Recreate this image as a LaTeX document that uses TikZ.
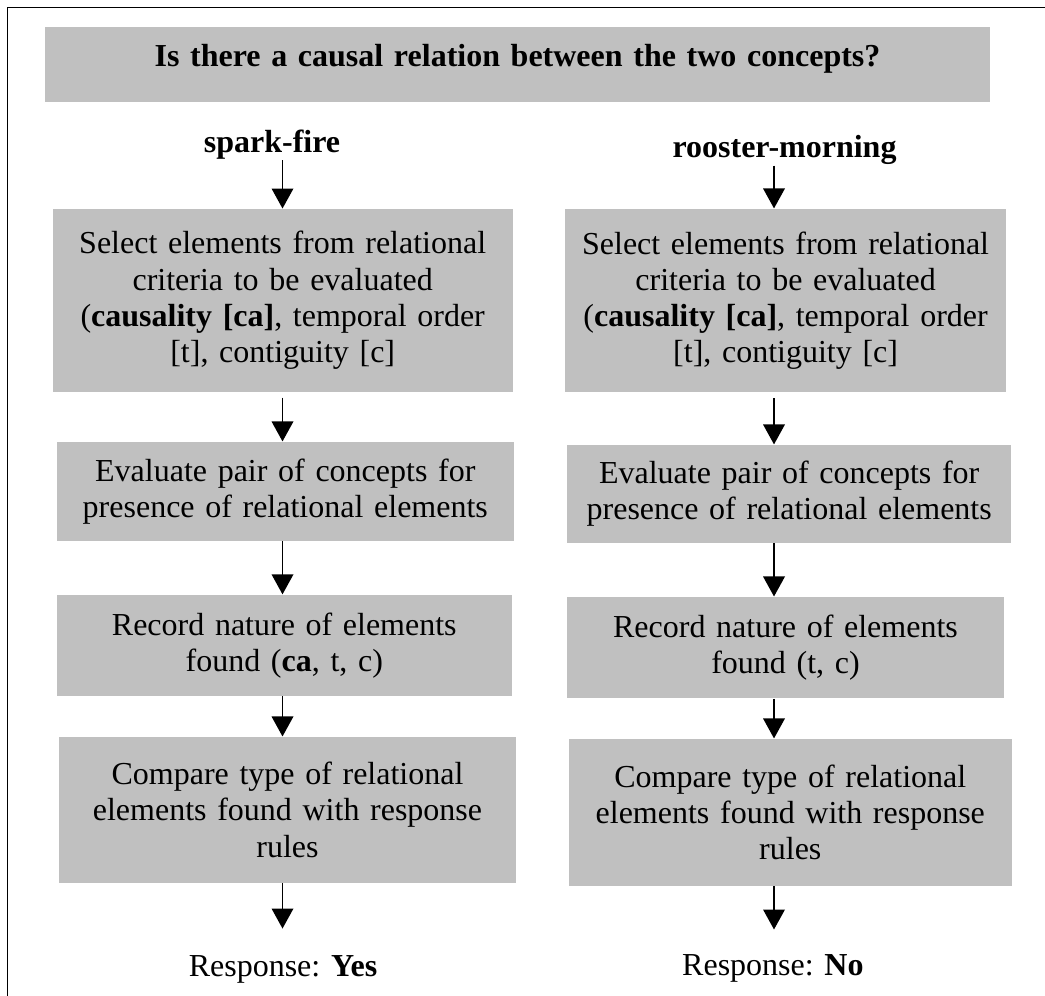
\documentclass[tikz,border=0pt]{standalone}
\usepackage{fontspec}
\setmainfont{Liberation Serif}
\usepackage{xcolor}
\usetikzlibrary{arrows.meta, positioning, calc}
\definecolor{cellgray}{HTML}{C0C0C0}

\begin{document}
\begin{tikzpicture}[
    x=0.375pt, y=-0.375pt,
    block/.style={fill=cellgray, inner sep=0pt, align=center, text width=158pt, font=\fontsize{12}{13.6}\selectfont},
    tag/.style={inner sep=0pt, anchor=base, font=\fontsize{12}{13.6}\selectfont},
    arr/.style={line width=0.6pt, -{Triangle[width=8.1pt, length=7.5pt]}}
]
    \useasboundingbox (0,0) rectangle (1045,996);

    % frame
    \draw[line width=0.6pt] (7.5,996) -- (7.5,7.5) -- (1045,7.5);

    \node[block, minimum width=354.4pt, minimum height=28.1pt, text width=350pt, text depth=6.5pt, font=\fontsize{12}{13.6}\selectfont\bfseries] (question) at (517.5,64.5) {Is there a causal relation between the two concepts?};

    % concept pairs
    \node[tag] (spark) at (272,153) {\bfseries spark-fire};
    \node[tag] (rooster) at (784.5,158) {\bfseries rooster-morning};

    % left column
    \node[block, minimum width=172.5pt, minimum height=68.5pt] (selL) at (282.7,300.4) {Select elements from relational\\criteria to be evaluated\\(\textbf{causality [ca]}, temporal order\\{[t]}, contiguity [c]};
    \node[block, minimum width=171.5pt, minimum height=37pt] (evalL) at (285.3,491.3) {Evaluate pair of concepts for\\presence of relational elements};
    \node[block, minimum width=170.7pt, minimum height=37.8pt] (recL) at (284.3,645.3) {Record nature of elements\\found (\textbf{ca}, t, c)};
    \node[block, minimum width=171.4pt, minimum height=54.6pt] (cmpL) at (287.5,809.8) {Compare type of relational\\elements found with response\\rules};
    \node[tag] (yes) at (283,976.7) {Response: \textbf{Yes}};

    % right column
    \node[block, minimum width=165.3pt, minimum height=68.8pt] (selR) at (785.6,300.7) {Select elements from relational\\criteria to be evaluated\\(\textbf{causality [ca]}, temporal order\\{[t]}, contiguity [c]};
    \node[block, minimum width=166.7pt, minimum height=36.7pt] (evalR) at (789.2,493.9) {Evaluate pair of concepts for\\presence of relational elements};
    \node[block, minimum width=163.9pt, minimum height=38pt] (recR) at (785.5,647.7) {Record nature of elements\\found (t, c)};
    \node[block, minimum width=166pt, minimum height=55pt] (cmpR) at (790.3,812.3) {Compare type of relational\\elements found with response\\rules};
    \node[tag] (no) at (772.9,975) {Response: \textbf{No}};

    \coordinate (lx) at (282.5,0);
    \coordinate (rx) at (774,0);

    \draw[arr] (spark.south -| lx) -- (selL.north -| lx);
    \draw[arr, shorten <=2pt] (selL.south -| lx) -- (evalL.north -| lx);
    \draw[arr] (evalL.south -| lx) -- (recL.north -| lx);
    \draw[arr] (recL.south -| lx) -- (cmpL.north -| lx);
    \draw[arr, shorten >=10pt] (cmpL.south -| lx) -- (yes.north -| lx);

    \draw[arr] (rooster.south -| rx) -- (selR.north -| rx);
    \draw[arr, shorten <=2pt] (selR.south -| rx) -- (evalR.north -| rx);
    \draw[arr] (evalR.south -| rx) -- (recR.north -| rx);
    \draw[arr] (recR.south -| rx) -- (cmpR.north -| rx);
    \draw[arr, shorten >=9pt] (cmpR.south -| rx) -- (no.north -| rx);
\end{tikzpicture}
\end{document}
